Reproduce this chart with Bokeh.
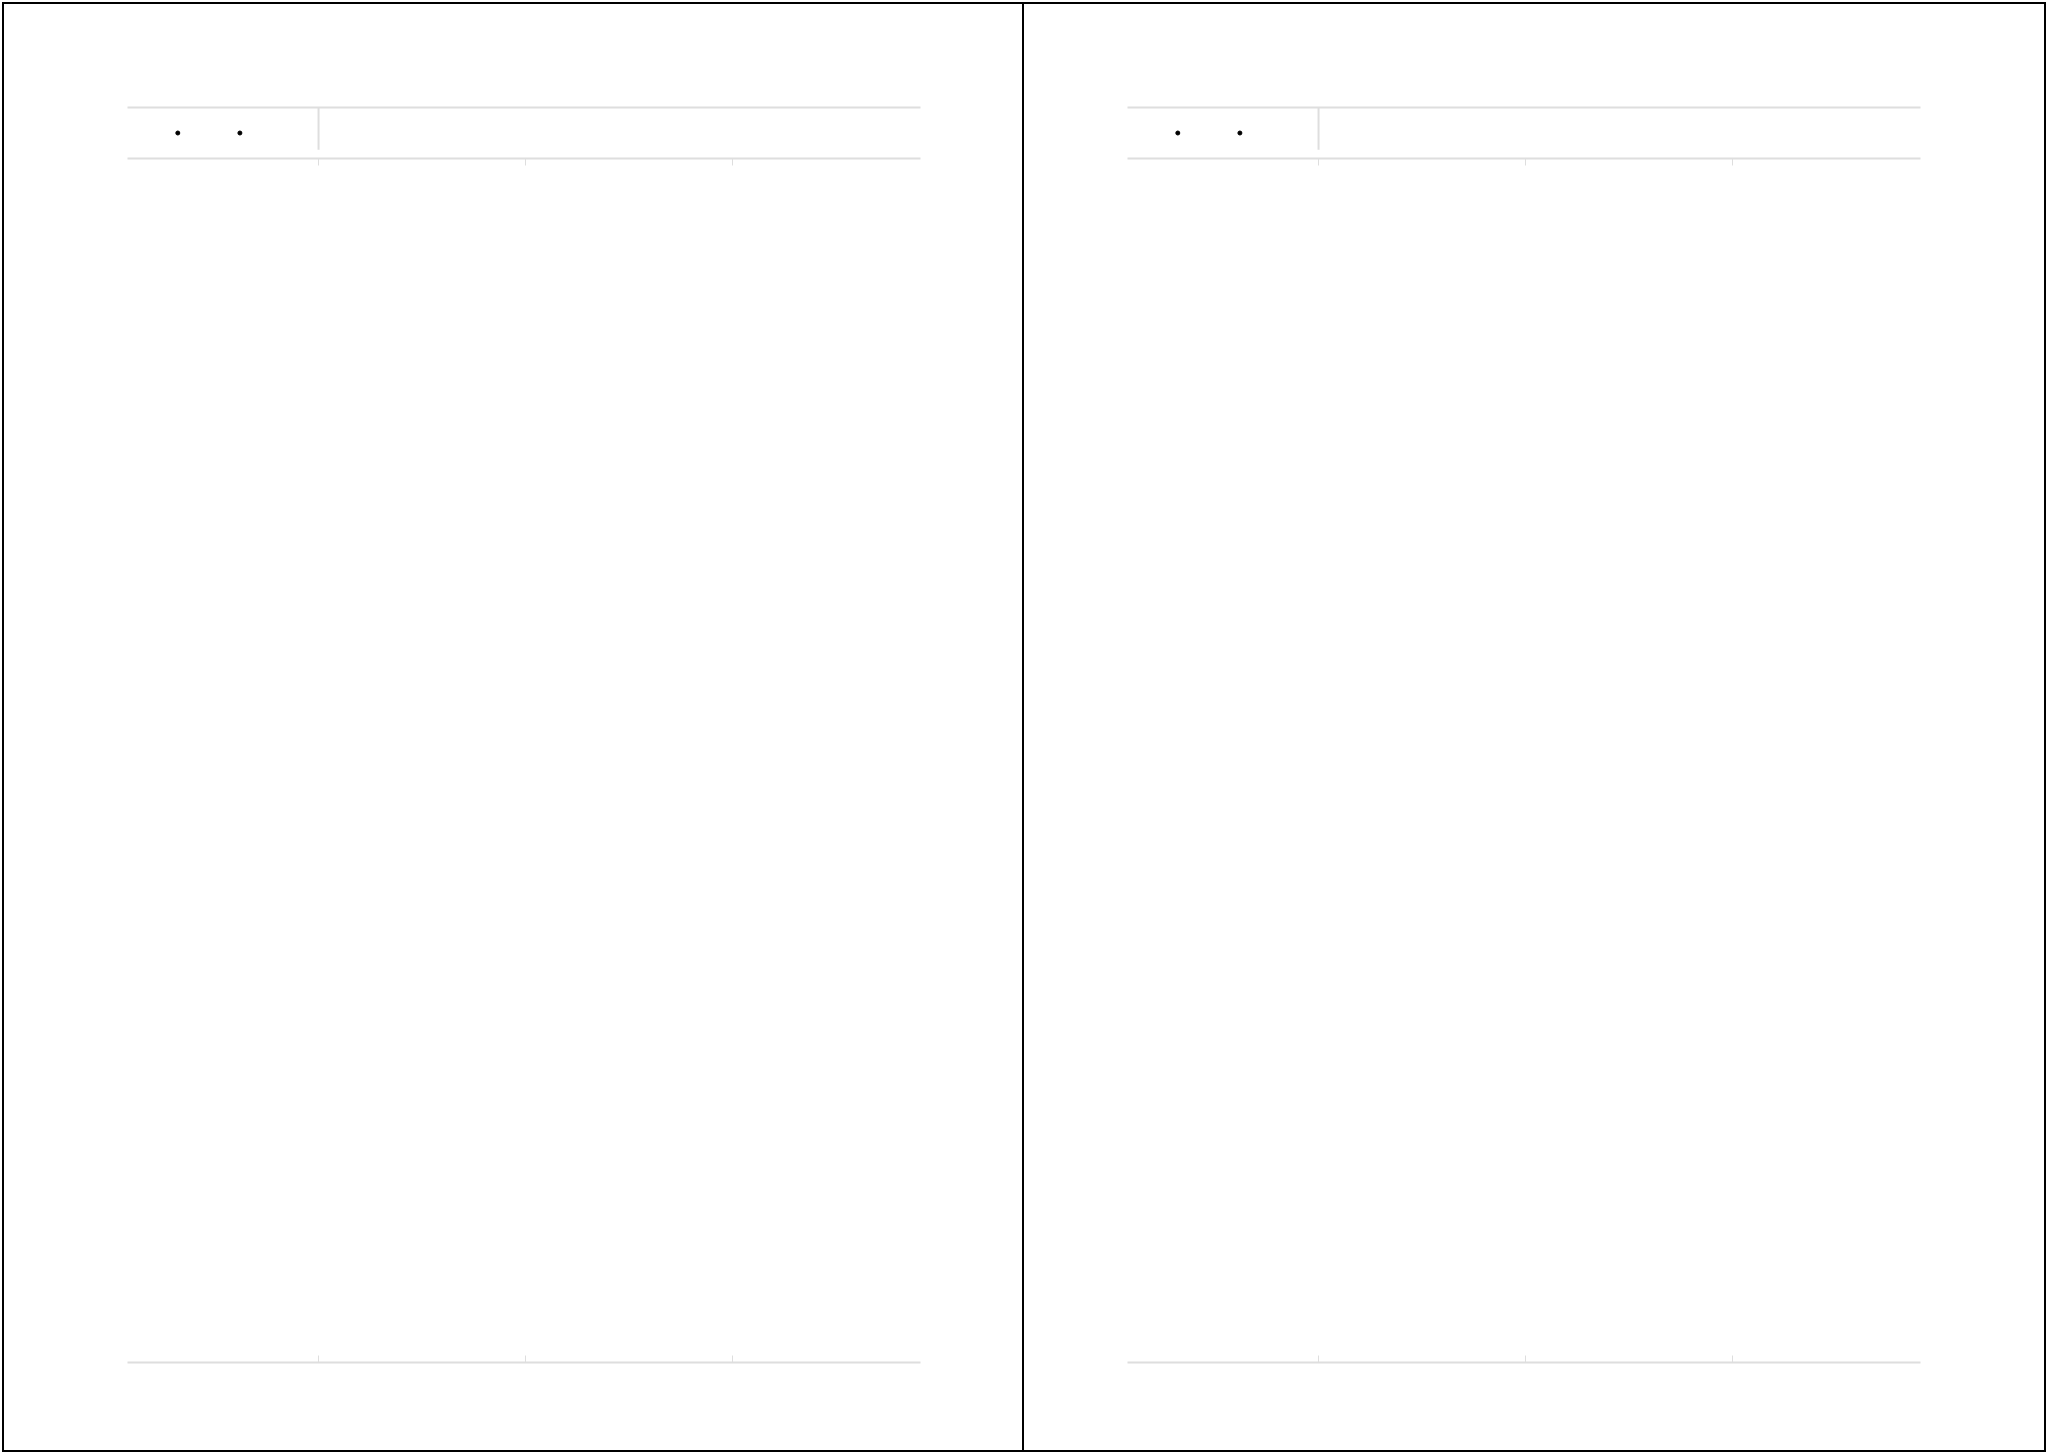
from bokeh.plotting import figure
from bokeh.layouts import row, column
from bokeh.models import Range1d, FixedTicker, LinearAxis
from bokeh.embed import file_html
from bokeh.resources import INLINE

# ---- data ----
tick_values = [0, 1, 2]
x_start, x_end = -0.923, 2.908
dot_x = [-0.68, -0.38]
dot_y = [0.5, 0.5]
divider_x = [0.0]
divider_y0 = [0.17]
divider_y1 = [1.0]

GRID = "#dedede"
FRAME_W = 793


def make_axis(tick_in, tick_out):
    ax = LinearAxis(ticker=FixedTicker(ticks=tick_values, minor_ticks=[]))
    ax.axis_line_color = GRID
    ax.axis_line_width = 2
    ax.major_tick_line_color = GRID if (tick_in or tick_out) else None
    ax.major_tick_line_width = 1
    ax.major_tick_in = tick_in
    ax.major_tick_out = tick_out
    ax.minor_tick_line_color = None
    ax.major_label_text_font_size = "0px"
    ax.major_label_standoff = 0
    ax.major_label_text_color = None
    ax.axis_label = None
    return ax


def panel(left, right):
    width = left + FRAME_W + right
    strip = figure(width=width, height=103 + 51 + 8,
                   x_range=Range1d(x_start, x_end), y_range=Range1d(0, 1),
                   x_axis_type=None, y_axis_type=None,
                   output_backend="svg", toolbar_location=None,
                   min_border_left=left, min_border_right=right,
                   min_border_top=103, min_border_bottom=8)
    strip.add_layout(make_axis(0, 0), "above")
    strip.add_layout(make_axis(0, 7), "below")
    strip.segment(x0=divider_x, y0=divider_y0, x1=divider_x, y1=divider_y1,
                  line_color=GRID, line_width=2)
    strip.scatter(x=dot_x, y=dot_y, size=4, fill_color="black", line_color="black")
    strip.outline_line_color = None
    strip.xgrid.visible = False
    strip.ygrid.visible = False

    main = figure(width=width, height=1284,
                  x_range=strip.x_range, y_range=Range1d(0, 1),
                  x_axis_type=None, y_axis_type=None,
                  output_backend="svg", toolbar_location=None,
                  min_border_left=left, min_border_right=right,
                  min_border_top=0, min_border_bottom=88)
    main.add_layout(make_axis(7, 0), "below")
    main.outline_line_color = None
    main.xgrid.visible = False
    main.ygrid.visible = False
    return strip, main


s1, m1 = panel(123, 102)
s2, m2 = panel(103, 124)

left_col = column(s1, m1, spacing=0, styles={"border-right": "2px solid black"})
right_col = column(s2, m2, spacing=0)
layout = row(left_col, right_col, spacing=0,
             styles={"border": "2px solid black", "margin": "2px 0 0 2px"})

open("out.html", "w").write(file_html(layout, INLINE))
